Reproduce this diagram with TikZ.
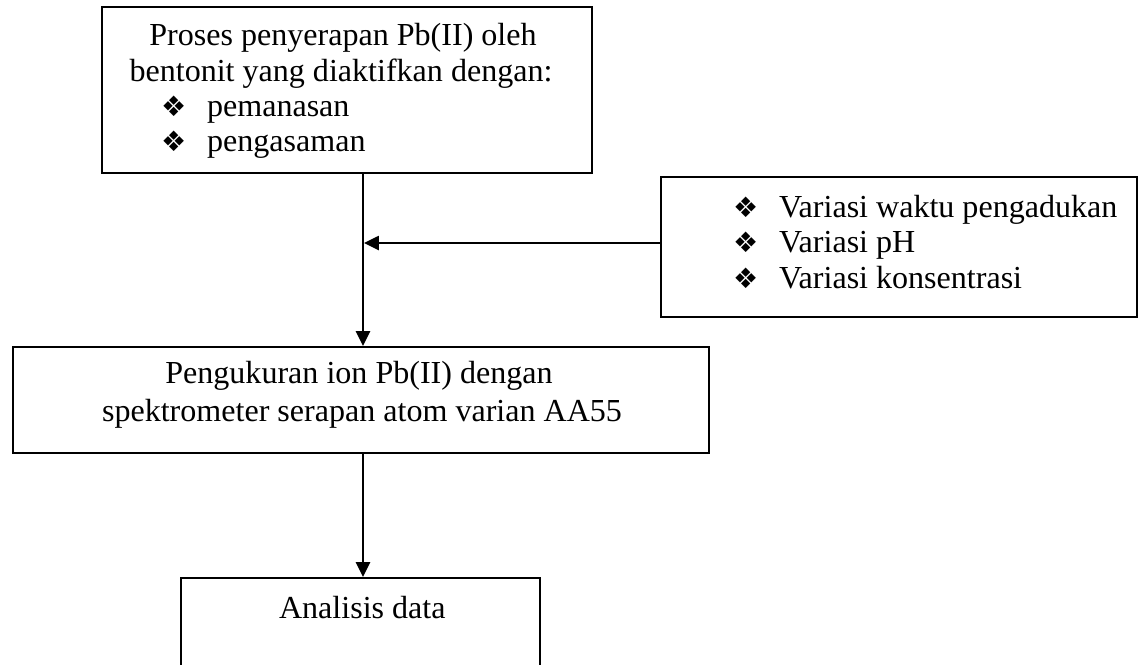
\documentclass[tikz,border=0pt]{standalone}
\usepackage{fontspec}
\setmainfont{Liberation Serif}
\newfontfamily\dingfont{DejaVu Sans}
\usepackage{tikz}
\usetikzlibrary{arrows.meta,fit}

\newcommand{\butir}[1]{\makebox[1.15cm][l]{\dingfont\fontsize{20}{20}\selectfont ❖}#1}

\tikzset{
  box/.style={draw, line width=1.5pt, inner sep=0pt},
  txt/.style={inner sep=0pt, font=\fontsize{22.8}{27}\selectfont},
}

\begin{document}
\begin{tikzpicture}[x=0.025cm, y=-0.025cm, >={Triangle[length=10.5pt, width=10pt]}, line width=1.5pt]
    \useasboundingbox (0,0) rectangle (1140,665);
    \coordinate (joint) at (363,243);

    \node[box, fit={(102,7) (592,173)}] (proses) {};
    \node[box, fit={(661,177) (1137,317)}] (variasi) {};
    \node[box, fit={(13,347) (709,453)}] (ukur) {};
    \node[box, fit={(181,578) (540,690)}] (analisis) {};

    \node[txt, anchor=base] (prosesa) at (343,45) {Proses penyerapan Pb(II) oleh};
    \node[txt, anchor=base] (prosesb) at (341,81) {bentonit yang diaktifkan dengan:};
    \node[txt, anchor=base west] (panas) at (160,116) {\butir{pemanasan}};
    \node[txt, anchor=base west] (asam) at (160,151) {\butir{pengasaman}};

    \node[txt, anchor=base west] (waktu) at (732,217) {\butir{Variasi waktu pengadukan}};
    \node[txt, anchor=base west] (ph) at (732,252) {\butir{Variasi pH}};
    \node[txt, anchor=base west] (konsen) at (732,288) {\butir{Variasi konsentrasi}};

    \node[txt, anchor=base] (ukura) at (359,383) {Pengukuran ion Pb(II) dengan};
    \node[txt, anchor=base] (ukurb) at (362,421) {spektrometer serapan atom varian AA55};

    \node[txt, anchor=base west] (data) at (278,618) {Analisis data};

    \draw[->] (proses.south -| joint) -- (ukur.north -| joint);
    \draw[->, shorten >=0.8pt] (variasi.west |- joint) -- (joint);
    \draw[->] (ukur.south -| joint) -- (analisis.north -| joint);
\end{tikzpicture}
\end{document}
